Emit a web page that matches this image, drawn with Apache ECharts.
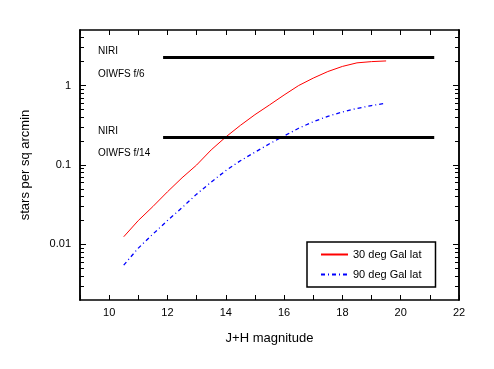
<!DOCTYPE html>
<html>
<head>
<meta charset="utf-8">
<script src="https://cdn.jsdelivr.net/npm/echarts@6/dist/echarts.min.js"></script>
<style>
html,body{margin:0;padding:0;background:#fff;}
#chart{width:494px;height:369px;}
</style>
</head>
<body>
<div id="chart"></div>
<script>
// ---- data ----
const magnitudes = [10.5, 11, 11.5, 12, 12.5, 13, 13.5, 14, 14.5, 15, 15.5, 16, 16.5, 17, 17.5, 18, 18.5, 19, 19.5];
const gal30 = [0.0125, 0.020, 0.030, 0.046, 0.069, 0.10, 0.155, 0.225, 0.315, 0.43, 0.57, 0.76, 1.0, 1.24, 1.50, 1.74, 1.93, 2.0, 2.04];
const gal90 = [0.0055, 0.0090, 0.0135, 0.020, 0.029, 0.043, 0.061, 0.085, 0.113, 0.145, 0.185, 0.232, 0.29, 0.35, 0.41, 0.465, 0.515, 0.56, 0.60];
const seriesNames = ['30 deg Gal lat', '90 deg Gal lat'];
const limitF6 = { x: [11.85, 21.15], y: 2.25 };
const limitF14 = { x: [11.85, 21.15], y: 0.222 };
const xLabelValues = [10, 12, 14, 16, 18, 20, 22];
const yMajorValues = [0.01, 0.1, 1];
const yMinorValues = [0.003, 0.004, 0.005, 0.006, 0.007, 0.008, 0.009,
  0.02, 0.03, 0.04, 0.05, 0.06, 0.07, 0.08, 0.09,
  0.2, 0.3, 0.4, 0.5, 0.6, 0.7, 0.8, 0.9, 2, 3, 4];
const annotations = [
  { text: 'NIRI', x: 98, y: 52 },
  { text: 'OIWFS f/6', x: 98, y: 75 },
  { text: 'NIRI', x: 98, y: 132 },
  { text: 'OIWFS f/14', x: 98, y: 154 }
];

const FONT = 'Liberation Sans, Arial, sans-serif';
const chart = echarts.init(document.getElementById('chart'));

function yAxisDef(pos, ticks, len, withLabels) {
  return {
    type: 'log', min: 0.002, max: 5, position: pos,
    axisLine: { show: true, lineStyle: { color: '#000', width: 1.5 } },
    axisTick: { show: true, inside: true, length: len, customValues: ticks, lineStyle: { color: '#000', width: 1 } },
    axisLabel: withLabels ? { show: true, customValues: yMajorValues, color: '#000', fontSize: 11, fontFamily: FONT, margin: 9,
      formatter: v => String(v) } : { show: false },
    splitLine: { show: false },
    minorTick: { show: false }
  };
}

const yAxes = [
  Object.assign(yAxisDef('left', yMajorValues, 6, true), {
    name: 'stars per sq arcmin', nameLocation: 'middle', nameGap: 48, nameRotate: 90,
    nameTextStyle: { color: '#000', fontSize: 13, fontFamily: FONT }
  }),
  yAxisDef('left', yMinorValues, 4, false),
  yAxisDef('right', yMajorValues, 6, false),
  yAxisDef('right', yMinorValues, 4, false)
];

const xAxes = [
  {
    type: 'value', min: 9, max: 22, interval: 1, position: 'bottom',
    axisLine: { show: true, onZero: false, lineStyle: { color: '#000', width: 1.5 } },
    axisTick: { show: true, inside: true, length: 5, lineStyle: { color: '#000' } },
    axisLabel: { show: true, customValues: xLabelValues, color: '#000', fontSize: 11, fontFamily: FONT, margin: 7 },
    splitLine: { show: false },
    name: 'J+H magnitude', nameLocation: 'middle', nameGap: 32,
    nameTextStyle: { color: '#000', fontSize: 13, fontFamily: FONT }
  },
  {
    type: 'value', min: 9, max: 22, interval: 1, position: 'top',
    axisLine: { show: true, onZero: false, lineStyle: { color: '#000', width: 1.5 } },
    axisTick: { show: true, inside: true, length: 5, lineStyle: { color: '#000' } },
    axisLabel: { show: false },
    splitLine: { show: false }
  }
];

const option = {
  backgroundColor: '#fff',
  animation: false,
  grid: { left: 80, right: 35, top: 30, bottom: 69, containLabel: false },
  xAxis: xAxes,
  yAxis: yAxes,
  legend: {
    data: seriesNames,
    orient: 'vertical',
    left: 307, top: 242,
    borderColor: '#000', borderWidth: 1.5,
    padding: [7, 14, 7, 13],
    itemWidth: 27, itemHeight: 10, itemGap: 9,
    itemStyle: { opacity: 0 },
    textStyle: { color: '#000', fontSize: 11, fontFamily: FONT },
    backgroundColor: '#fff'
  },
  graphic: annotations.map(a => ({
    type: 'text', left: a.x, top: a.y - 6,
    style: { text: a.text, fill: '#000', font: '10px ' + FONT }
  })),
  series: [
    {
      name: seriesNames[0], type: 'line', symbol: 'none',
      data: magnitudes.map((m, i) => [m, gal30[i]]),
      lineStyle: { color: '#ff0000', width: 1 }, itemStyle: { color: '#ff0000' }
    },
    {
      name: seriesNames[1], type: 'line', symbol: 'none',
      data: magnitudes.map((m, i) => [m, gal90[i]]),
      lineStyle: { color: '#0000ff', width: 1.3, type: [4, 3, 1, 3] }, itemStyle: { color: '#0000ff' }
    },
    {
      name: 'f6', type: 'line', symbol: 'none',
      data: limitF6.x.map(x => [x, limitF6.y]),
      lineStyle: { color: '#000', width: 3 }
    },
    {
      name: 'f14', type: 'line', symbol: 'none',
      data: limitF14.x.map(x => [x, limitF14.y]),
      lineStyle: { color: '#000', width: 3 }
    }
  ]
};
chart.setOption(option);
</script>
</body>
</html>
